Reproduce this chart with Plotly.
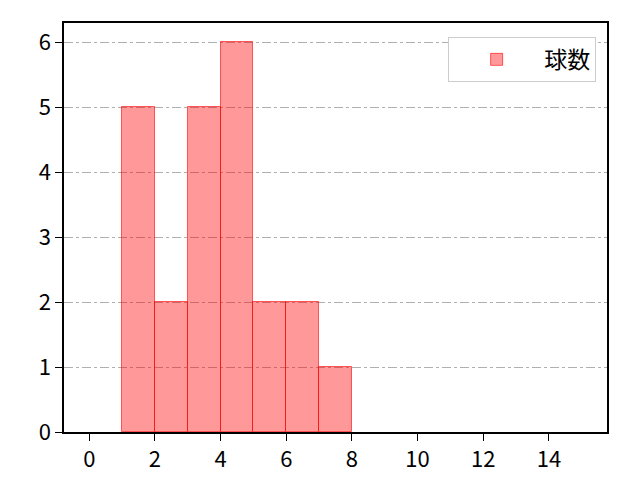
import plotly.graph_objects as go

bin_left = [1, 2, 3, 4, 5, 6, 7]
counts = [5, 2, 5, 6, 2, 2, 1]
series_name = "球数"
x_ticks = [0, 2, 4, 6, 8, 10, 12, 14]
y_ticks = [0, 1, 2, 3, 4, 5, 6]

centers = [b + 0.5 for b in bin_left]

fig = go.Figure()
fig.add_trace(go.Bar(
    x=centers, y=counts, width=[1] * len(centers), name=series_name,
    marker=dict(color="rgba(255,0,0,0.4)", line=dict(color="rgba(255,0,0,0.6)", width=1)),
    showlegend=True,
))

font = "Noto Sans CJK JP"
fig.update_layout(
    width=632, height=472,
    margin=dict(l=56, r=33, t=15, b=48, autoexpand=False),
    paper_bgcolor="white", plot_bgcolor="white",
    font=dict(family=font, size=22, color="black"),
    bargap=0,
    showlegend=True,
    legend=dict(x=0.98, y=0.966, xanchor="right", yanchor="top",
                bordercolor="#cccccc", borderwidth=1, bgcolor="white",
                itemwidth=85,
                font=dict(size=23, family=font)),
)
fig.update_xaxes(range=[-0.77, 15.77], tickvals=x_ticks, showgrid=False, zeroline=False,
                 showline=True, linecolor="black", linewidth=1.5, mirror=True, automargin=False,
                 ticks="outside", ticklen=7, tickwidth=1.2, tickcolor="black")
fig.update_yaxes(range=[0, 6.3], tickvals=y_ticks, showgrid=True, gridcolor="#b0b0b0",
                 griddash="dashdot", gridwidth=1, zeroline=False, automargin=False,
                 showline=True, linecolor="black", linewidth=1.5, mirror=True,
                 ticks="outside", ticklen=7, tickwidth=1.2, tickcolor="black")

fig.write_html("out.html")
